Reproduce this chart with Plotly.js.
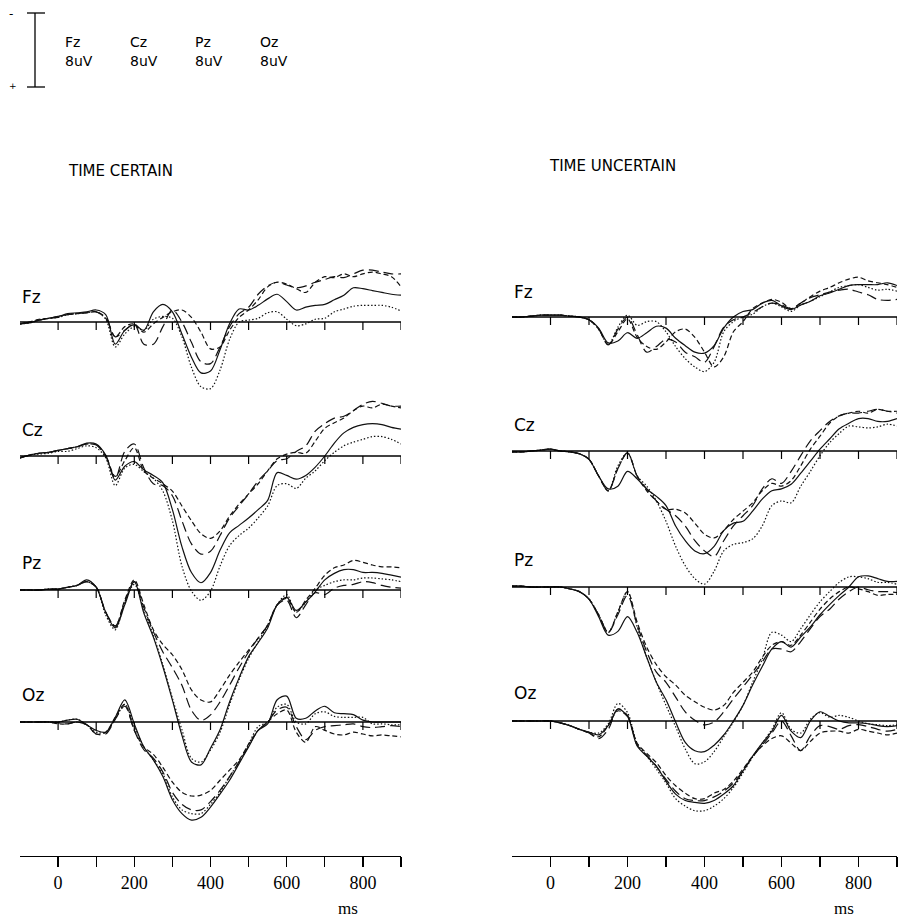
<!DOCTYPE html>
<html><head><meta charset="utf-8">
<script src="https://cdn.plot.ly/plotly-3.0.1.min.js"></script>
<style>html,body{margin:0;padding:0;background:#fff}</style>
</head><body><div id="chart" style="width:899px;height:920px"></div>
<script>
// ---------- data (µV, negative up), sampled every 25 ms ----------
const timeMs = [-100,-75,-50,-25,0,25,50,75,100,125,150,175,200,225,250,275,300,325,350,375,400,425,450,475,500,525,550,575,600,625,650,675,700,725,750,775,800,825,850,875,900];
const channels = ['Fz','Cz','Pz','Oz'];
const panelTitles = ['TIME CERTAIN','TIME UNCERTAIN'];
const scaleLabels = ['8uV','8uV','8uV','8uV'];
const scaleMicroV = 8;
const tickMs = [0,100,200,300,400,500,600,700,800,900];
const tickLabels = ['0','','200','','400','','600','','800',''];
const axisUnit = 'ms';

// TIME CERTAIN
const certainFzSolid  = [0.2,0.1,-0.2,-0.4,-0.6,-0.9,-1.0,-1.1,-1.3,-0.8,2.4,0.9,0.3,0.9,-1.1,-1.9,-1.1,1.3,3.8,5.5,5.3,3.0,0.2,-1.4,-1.3,-1.8,-2.5,-3.0,-2.2,-1.3,-1.6,-1.8,-1.9,-2.4,-2.9,-3.7,-3.6,-3.4,-3.2,-3.0,-2.9];
const certainFzShort  = [0.2,0,-0.3,-0.4,-0.6,-0.8,-0.9,-1.0,-1.1,-0.4,1.6,0.5,0.2,1.1,0.2,-0.5,-1.1,-1.3,-0.5,1.1,2.9,2.7,0.9,-0.5,-1.3,-2.4,-3.8,-4.3,-4.1,-3.6,-3.2,-4.3,-4.9,-4.8,-5.2,-4.9,-5.2,-5.4,-5.2,-4.9,-3.8];
const certainFzLong   = [0.2,0,-0.2,-0.4,-0.5,-0.8,-0.9,-1.0,-1.1,-0.5,1.6,0.9,0.2,2.4,2.4,0.5,-1.3,0,2.2,4.3,4.5,2.7,0.5,-0.9,-1.6,-3.0,-3.9,-4.3,-4.0,-3.7,-3.9,-4.3,-4.6,-4.9,-4.8,-5.2,-5.6,-5.6,-5.4,-5.2,-5.2];
const certainFzDotted = [0.2,0.1,-0.2,-0.4,-0.5,-0.8,-0.9,-1.0,-1.1,-0.3,2.7,1.3,0.5,0.9,-0.3,-0.6,-0.4,1.6,4.9,7.0,7.2,5.2,1.9,0,-0.2,-0.4,-1.0,-1.1,-0.3,0.4,0.2,-0.3,-0.4,-1.1,-1.4,-1.7,-1.8,-1.8,-1.8,-1.6,-1.2];

const certainCzSolid  = [0.2,-0.1,-0.3,-0.4,-0.6,-0.8,-1.0,-1.4,-1.3,-0.1,2.6,1.1,0.6,1.5,2.1,2.9,5.8,9.8,12.6,13.7,12.6,10.2,8.3,7.5,6.7,5.8,4.8,1.8,2.1,2.5,2.1,1.2,0,-1.4,-2.5,-3.1,-3.4,-3.5,-3.4,-3.1,-2.9];
const certainCzShort  = [0.2,-0.1,-0.3,-0.4,-0.6,-0.8,-1.0,-1.3,-1.2,0,2.2,0.5,-0.9,1.6,2.4,3.0,3.8,5.4,7.0,8.4,8.9,8.1,6.5,5.2,4.1,3.0,1.6,0.3,-0.2,-0.4,-0.3,-1.6,-3.0,-3.6,-4.1,-4.9,-5.4,-5.2,-5.6,-5.4,-5.2];
const certainCzLong   = [0.2,-0.1,-0.3,-0.4,-0.6,-0.8,-1.0,-1.3,-1.2,0,2.4,-0.5,-1.3,1.3,3.0,3.2,4.3,7.0,9.5,10.6,10.3,8.6,6.7,5.4,4.1,2.7,1.6,0.5,0.3,-0.5,-1.1,-2.7,-3.5,-4.1,-4.3,-4.9,-5.6,-5.9,-5.7,-5.4,-5.4];
const certainCzDotted = [0.2,-0.1,-0.2,-0.3,-0.5,-0.5,-0.8,-1.1,-0.9,0.2,3.2,1.3,0.9,1.7,2.4,3.8,7.0,11.9,14.6,15.6,14.6,11.9,9.7,8.6,7.8,6.7,5.4,3.2,3.0,3.5,2.4,1.6,0.5,-0.4,-1.1,-1.5,-1.8,-2.1,-2.1,-1.8,-1.3];

const certainPzSolid  = [0,0,0,-0.1,-0.1,-0.3,-0.5,-1.1,-0.3,2.4,4.1,1.6,-0.9,2.5,5.1,8.3,11.9,15.7,18.6,18.9,17.1,15.1,12.1,9.5,7.2,5.7,4.1,1.6,0.8,2.2,1.3,0.2,-1.1,-1.8,-2.2,-2.2,-1.9,-1.9,-1.8,-1.6,-1.4];
const certainPzShort  = [0,0,0,-0.1,-0.1,-0.3,-0.5,-0.9,-0.3,2.4,3.9,1.1,-1.1,1.6,4.3,5.9,7.0,8.6,10.8,11.9,12.1,10.8,9.2,7.8,6.5,5.2,3.8,1.6,0.9,2.4,1.1,-0.2,-1.6,-2.4,-2.7,-3.2,-3.0,-2.7,-2.5,-2.5,-2.4];
const certainPzLong   = [0,0,0,-0.1,-0.1,-0.3,-0.5,-0.9,-0.3,2.4,3.9,1.3,-0.9,1.9,4.5,6.7,8.4,10.3,13.0,14.1,13.5,12.1,10.3,8.4,6.7,5.2,3.8,1.6,1.1,3.0,1.6,0.3,0.5,-0.2,-0.5,-0.6,-0.9,-0.8,-0.5,-0.3,-0.2];
const certainPzDotted = [0,0,0,-0.1,-0.1,-0.3,-0.5,-0.9,-0.3,2.7,4.3,1.3,-0.6,2.2,4.9,8.1,11.7,15.1,18.2,18.6,17.3,15.4,12.4,9.7,7.4,5.6,3.8,1.6,0.5,2.4,1.3,0,-0.5,-0.9,-1.1,-1.1,-1.3,-1.3,-1.2,-1.1,-0.9];

const certainOzSolid  = [0,0,0,0,0,-0.2,-0.3,0.3,0.9,1.1,-0.5,-2.4,0.2,2.7,4.1,5.9,8.4,9.9,10.6,10.3,9.2,7.8,6.3,4.5,2.7,0.9,0.2,-2.4,-2.8,-0.4,-0.4,-1.2,-1.7,-1.0,-0.9,-0.8,-0.2,0,0,0,0];
const certainOzShort  = [0,0,0,0,0.2,0.2,0,0.3,1.3,1.1,-0.5,-1.9,0.9,2.7,3.5,4.9,6.5,7.6,8.0,7.9,7.4,6.3,5.2,4.1,2.4,0.9,0,-0.9,-1.3,1.1,2.2,0.5,0.9,1.3,1.4,1.1,1.3,1.5,1.4,1.5,1.6];
const certainOzLong   = [0,0,0,0,0.1,0.2,0,0.3,1.3,1.3,-0.3,-1.7,0.9,3.0,3.9,5.4,7.6,8.9,9.5,9.5,8.6,7.4,5.9,4.3,2.6,0.9,0,-1.3,-1.6,0.5,1.9,0.9,0.5,0.4,0.3,0.2,0.5,0.6,0.5,0.4,0.5];
const certainOzDotted = [0,0,0,0,0,-0.2,-0.3,0.3,1.1,1.1,-0.3,-1.9,0.5,2.7,4.1,5.6,8.1,9.5,9.9,9.9,8.9,7.6,5.9,4.3,2.4,0.5,0,-1.6,-1.9,0,0.2,-0.9,-1.1,-0.6,-0.5,-0.5,-0.5,0.2,0.2,0.3,0.3];

// TIME UNCERTAIN
const uncertainFzSolid  = [0,0,-0.1,-0.2,-0.2,-0.2,-0.1,0,0.3,1.2,2.8,2.6,1.7,2.3,1.7,1.0,1.2,2.3,3.1,3.8,3.9,3.1,1.2,0,-0.6,-0.8,-1.5,-1.8,-1.2,-0.8,-1.3,-1.7,-2.3,-2.6,-3.0,-3.4,-3.5,-3.5,-3.5,-3.7,-3.4];
const uncertainFzShort  = [0,0,-0.1,-0.2,-0.2,-0.2,-0.1,0,0.3,1.3,3.0,1.6,0.2,2.2,3.2,3.5,2.7,1.6,1.3,2.2,3.8,5.4,4.3,1.6,0.5,-0.9,-1.5,-1.9,-1.6,-0.9,-1.5,-2.2,-2.8,-3.2,-3.7,-4.1,-4.3,-3.9,-3.7,-3.5,-3.2];
const uncertainFzLong   = [0,0,-0.1,-0.2,-0.2,-0.2,-0.1,0,0.3,1.3,3.0,1.3,0,1.9,3.8,3.2,2.4,2.7,3.8,4.3,4.9,3.2,1.1,0.3,0,-0.5,-1.1,-1.5,-1.3,-0.9,-1.5,-2.1,-2.4,-2.7,-2.9,-3.0,-2.7,-2.4,-1.9,-1.8,-1.9];
const uncertainFzDotted = [0,0,-0.1,-0.2,-0.2,-0.2,-0.1,0,0.3,1.3,3.0,1.1,-0.2,0.9,0.5,0.5,1.6,3.2,4.5,5.4,5.9,4.9,1.6,0.5,0,-0.3,-1.1,-1.5,-1.1,-0.6,-1.3,-1.7,-2.2,-2.7,-3.2,-3.4,-3.5,-3.2,-2.9,-3.0,-2.8];

const uncertainCzSolid  = [0.1,0.1,0,-0.1,-0.2,0,0.1,0.3,0.9,2.7,4.1,3.8,2.2,3.0,4.1,4.9,5.9,8.1,9.7,10.8,11.1,10.3,8.6,7.8,7.6,6.5,5.2,4.3,4.1,3.6,2.4,1.1,-0.2,-1.3,-2.4,-3.0,-3.5,-3.5,-3.2,-3.2,-3.5];
const uncertainCzShort  = [0.1,0.1,0,-0.1,-0.2,0,0.1,0.3,0.9,2.7,4.3,1.9,0.2,2.7,4.3,5.4,6.3,6.3,6.7,7.8,9.0,9.4,8.6,7.4,6.5,5.6,4.3,3.5,3.8,3.2,1.6,-0.2,-1.6,-3.0,-3.8,-4.1,-4.3,-4.1,-4.5,-4.3,-4.3];
const uncertainCzLong   = [0.1,0.1,0,-0.1,-0.2,0,0.1,0.3,0.9,2.7,4.3,1.9,0.2,2.7,4.1,5.4,6.3,7.0,8.1,9.7,10.8,11.4,9.7,8.1,7.0,5.9,4.1,3.0,3.5,2.2,0.5,-1.1,-2.2,-3.2,-3.8,-4.1,-4.1,-4.3,-4.5,-4.3,-4.1];
const uncertainCzDotted = [0.1,0.1,0,-0.1,-0.2,0,0.1,0.3,0.9,2.7,4.3,1.6,0.2,2.7,3.8,5.4,7.6,10.3,12.4,13.8,14.4,13.0,10.8,10.1,9.9,9.5,8.1,5.9,5.4,5.6,3.8,2.2,0.5,-0.9,-1.9,-2.7,-2.6,-2.5,-2.6,-2.9,-2.7];

const uncertainPzSolid  = [-0.1,-0.1,0,0,0,0,0.2,0.5,1.3,3.2,5.2,4.8,3.2,4.9,7.6,10.3,12.2,14.6,16.8,17.7,17.8,17.1,16.0,14.5,12.8,10.6,8.6,6.7,5.9,6.5,5.4,4.3,3.0,1.9,0.9,0,-1.1,-1.2,-0.9,-0.6,-0.6];
const uncertainPzShort  = [-0.1,-0.1,0,0,0,0,0.2,0.5,1.3,3.0,4.9,2.7,0.5,3.8,6.5,8.4,9.7,10.6,11.7,12.4,13.0,13.3,12.8,11.4,10.3,9.2,7.6,6.3,5.9,6.3,5.2,3.8,2.4,1.3,0.5,0,0.2,0.5,0.9,0.8,0.8];
const uncertainPzLong   = [-0.1,-0.1,0,0,0,0,0.2,0.5,1.3,3.0,4.9,3.0,0.9,4.1,7.0,9.2,10.3,11.9,13.5,14.4,14.9,14.6,13.5,12.1,10.8,9.5,8.1,6.7,6.7,7.0,5.9,4.5,3.2,2.4,1.3,0.5,0,0.3,0.5,0.5,0.6];
const uncertainPzDotted = [-0.1,-0.1,0,0,0,0,0.2,0.5,1.3,3.0,4.9,2.7,0.5,4.3,7.6,10.3,12.8,15.1,17.5,19.1,18.9,17.8,16.2,14.6,12.8,10.3,7.8,4.9,5.2,5.9,4.5,3.0,1.6,0.5,-0.5,-1.1,-1.1,-0.9,-0.5,-0.5,-0.3];

const uncertainOzSolid  = [0,0,0,0,0,0.2,0.5,0.9,1.2,1.5,0.5,-1.3,-0.5,2.7,3.8,4.9,6.5,7.9,8.6,8.8,8.9,8.6,7.9,7.0,5.4,3.8,2.4,1.1,-0.6,1.1,1.8,0,-1.0,-0.5,0,0.2,0.2,0.3,0.5,0.6,0.5];
const uncertainOzShort  = [0,0,0,0,0,0.2,0.5,0.9,1.3,1.7,0.5,-1.1,-0.5,2.4,3.5,4.5,5.9,7.0,7.8,8.4,8.4,7.8,7.4,6.5,5.2,3.8,2.7,1.9,1.6,2.4,3.2,2.2,1.3,1.1,1.1,1.3,0.9,1.1,1.3,1.5,1.3];
const uncertainOzLong   = [0,0,0,0,0,0.2,0.5,0.9,1.3,1.9,0.9,-1.3,-0.6,2.6,3.7,4.9,6.3,7.6,8.4,8.6,8.6,8.2,7.6,6.7,5.4,3.9,2.6,1.3,0,1.6,3.2,1.6,0.5,0.6,0.9,0.5,0.4,0.6,0.9,1.1,0.9];
const uncertainOzDotted = [0,0,0,0,0,0.2,0.5,0.9,1.2,1.3,0.3,-1.9,-0.9,2.4,3.8,5.2,6.7,8.4,9.2,9.7,9.7,9.2,8.4,7.2,5.6,3.9,2.4,0.9,-0.9,0.9,1.3,-0.2,-0.9,-0.4,-0.6,-0.4,0,0.3,0.4,0.5,0.4];

// ---------- tables built from the arrays ----------
const panelData = [
  { Fz:[certainFzSolid,certainFzShort,certainFzLong,certainFzDotted],
    Cz:[certainCzSolid,certainCzShort,certainCzLong,certainCzDotted],
    Pz:[certainPzSolid,certainPzShort,certainPzLong,certainPzDotted],
    Oz:[certainOzSolid,certainOzShort,certainOzLong,certainOzDotted] },
  { Fz:[uncertainFzSolid,uncertainFzShort,uncertainFzLong,uncertainFzDotted],
    Cz:[uncertainCzSolid,uncertainCzShort,uncertainCzLong,uncertainCzDotted],
    Pz:[uncertainPzSolid,uncertainPzShort,uncertainPzLong,uncertainPzDotted],
    Oz:[uncertainOzSolid,uncertainOzShort,uncertainOzLong,uncertainOzDotted] }
];

// ---------- layout geometry (pixels) ----------
const W = 899, H = 920;
const PX_PER_UV = 74 / scaleMicroV;      // scale bar: 8 µV = 74 px
const conditionDash = ['solid','5px,3px','10px,5px','1.5px,2px'];
const panels = [
  { xPx:[20,401], base:[322,456,590,722], labelX:20,  labelY:[297,430,563,695], titleX:121, titleY:171, msX:348 },
  { xPx:[512,897], base:[317,451,587,721], labelX:512, labelY:[292,425,560,693], titleX:612, titleY:166, msX:844 }
];
const axisYPx = 856;
const font = 'DejaVu Sans, sans-serif';
const serif = 'Liberation Serif, Times New Roman, serif';

const traces = [], shapes = [], annotations = [];
const layout = {
  width: W, height: H, margin:{l:0,r:0,t:0,b:0},
  paper_bgcolor:'#fff', plot_bgcolor:'rgba(0,0,0,0)', showlegend:false
};

panels.forEach((p, pi) => {
  const xName = pi === 0 ? 'x' : 'x2';
  const xKey = pi === 0 ? 'xaxis' : 'xaxis2';
  layout[xKey] = {
    domain:[p.xPx[0]/W, p.xPx[1]/W], range:[-100,900], anchor:'free', position: 1 - axisYPx/H,
    showline:true, linecolor:'#000', linewidth:1.3, ticks:'outside', ticklen:10, tickwidth:1.3, tickcolor:'#000',
    tickmode:'array', tickvals: tickMs, ticktext: tickLabels, showgrid:false, zeroline:false,
    tickfont:{family:serif, size:18, color:'#000'}, fixedrange:true
  };
  const baseIdx = pi*4 + 1;
  const baseName = baseIdx === 1 ? 'y' : 'y' + baseIdx;
  channels.forEach((ch, ci) => {
    const idx = pi*4 + ci + 1;
    const yName = idx === 1 ? 'y' : 'y' + idx;
    const yKey = idx === 1 ? 'yaxis' : 'yaxis' + idx;
    const b = p.base[ci];
    const ax = { domain:[0,1], range:[(H - b)/PX_PER_UV, -b/PX_PER_UV], visible:false, anchor:xName, fixedrange:true };
    if (ci > 0) ax.overlaying = baseName;
    layout[yKey] = ax;

    panelData[pi][ch].forEach((vals, k) => {
      traces.push({ x: timeMs, y: vals, xaxis: xName, yaxis: yName, type:'scatter', mode:'lines',
        line:{ color:'#111', width:1.2, dash: conditionDash[k], shape:'spline', smoothing:0.9 },
        hoverinfo:'skip', showlegend:false, cliponaxis:false });
    });
    // baseline and its ticks
    shapes.push({ type:'line', xref:xName, yref:yName, x0:-100, x1:900, y0:0, y1:0, line:{color:'#000', width:1.3} });
    tickMs.forEach(t => shapes.push({ type:'line', xref:xName, yref:yName, x0:t, x1:t, y0:0, y1:8/PX_PER_UV, line:{color:'#000', width:1.2} }));
    annotations.push({ xref:'paper', yref:'paper', x:p.labelX/W, y:1 - p.labelY[ci]/H, xanchor:'left', yanchor:'middle',
      text: ch, showarrow:false, font:{family:font, size:17, color:'#000'} });
  });
  annotations.push({ xref:'paper', yref:'paper', x:p.titleX/W, y:1 - p.titleY/H, xanchor:'center', yanchor:'middle',
    text: panelTitles[pi], showarrow:false, font:{family:font, size:15, color:'#000'} });
  annotations.push({ xref:'paper', yref:'paper', x:p.msX/W, y:1 - 919/H, xanchor:'center', yanchor:'bottom',
    text: axisUnit, showarrow:false, borderpad:0, font:{family:serif, size:17, color:'#000'} });
});

// ---------- calibration legend ----------
const barTop = 13, barBot = barTop + scaleMicroV*PX_PER_UV, barX = 35;
const pxX = v => v/W, pxY = v => 1 - v/H;
shapes.push({ type:'line', xref:'paper', yref:'paper', x0:pxX(barX), x1:pxX(barX), y0:pxY(barTop), y1:pxY(barBot), line:{color:'#000', width:1.3} });
shapes.push({ type:'line', xref:'paper', yref:'paper', x0:pxX(27), x1:pxX(45), y0:pxY(barTop), y1:pxY(barTop), line:{color:'#000', width:1.3} });
shapes.push({ type:'line', xref:'paper', yref:'paper', x0:pxX(27), x1:pxX(45), y0:pxY(barBot), y1:pxY(barBot), line:{color:'#000', width:1.3} });
annotations.push({ xref:'paper', yref:'paper', x:pxX(11), y:pxY(14), xanchor:'center', yanchor:'middle', text:'-', showarrow:false, font:{family:font, size:12, color:'#000'} });
annotations.push({ xref:'paper', yref:'paper', x:pxX(13), y:pxY(86), xanchor:'center', yanchor:'middle', text:'+', showarrow:false, font:{family:font, size:9, color:'#000'} });
channels.forEach((ch, i) => {
  const x = 63 + i*65;
  annotations.push({ xref:'paper', yref:'paper', x:pxX(x), y:pxY(42), xanchor:'left', yanchor:'middle', text:ch, showarrow:false, font:{family:font, size:14, color:'#000'} });
  annotations.push({ xref:'paper', yref:'paper', x:pxX(x), y:pxY(61), xanchor:'left', yanchor:'middle', text:scaleLabels[i], showarrow:false, font:{family:font, size:14, color:'#000'} });
});

layout.shapes = shapes;
layout.annotations = annotations;
Plotly.newPlot('chart', traces, layout, {staticPlot:true, displayModeBar:false});
</script></body></html>
